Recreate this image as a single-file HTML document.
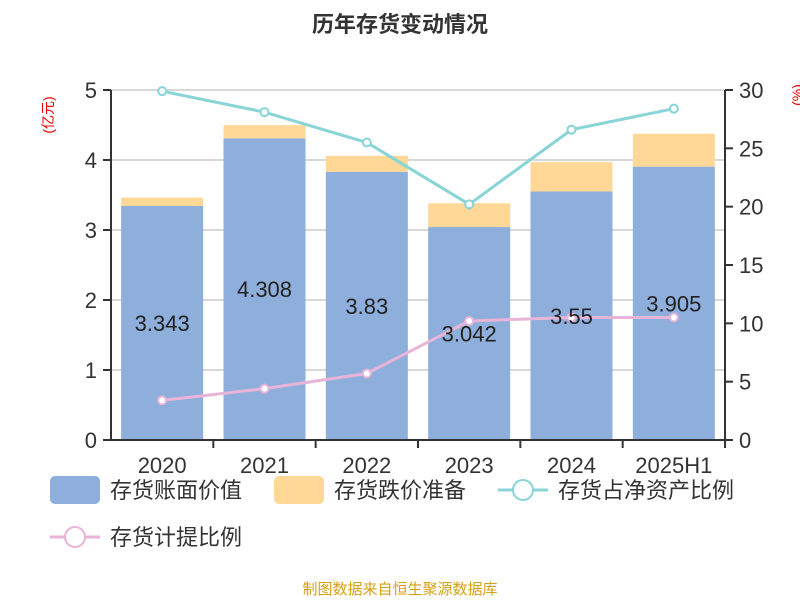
<!DOCTYPE html>
<html><head><meta charset="utf-8"><style>
body{margin:0;background:#fff;}
svg{font-family:"Liberation Sans","Noto Sans CJK SC",sans-serif;}
</style></head><body>
<svg id="c" width="800" height="600">
<text x="400" y="32" text-anchor="middle" font-size="22" font-weight="bold" fill="#333">历年存货变动情况</text>
<text x="0" y="0" transform="translate(53,115) rotate(-90)" text-anchor="middle" font-size="14" fill="#e00">(亿元)</text>
<text x="0" y="0" transform="translate(802,95) rotate(-90)" text-anchor="middle" font-size="14" fill="#e00">(%)</text>
<g id="grid"></g><g id="bars"></g><g id="axes"></g><g id="lines"></g><g id="labels"></g>
<g>
<rect x="50" y="476" width="50" height="28" rx="5" fill="#8eaedb"/>
<text x="110" y="498" font-size="22" fill="#333">存货账面价值</text>
<rect x="274" y="476" width="50" height="28" rx="5" fill="#ffd898"/>
<text x="334" y="498" font-size="22" fill="#333">存货跌价准备</text>
<line x1="498" y1="490" x2="548" y2="490" stroke="#88d4d6" stroke-width="3"/>
<circle cx="523" cy="490" r="10" fill="#fff" stroke="#88d4d6" stroke-width="2"/>
<text x="558" y="498" font-size="22" fill="#333">存货占净资产比例</text>
<line x1="50" y1="537" x2="100" y2="537" stroke="#e8b4d8" stroke-width="3"/>
<circle cx="75" cy="537" r="10" fill="#fff" stroke="#e8b4d8" stroke-width="2"/>
<text x="110" y="545" font-size="22" fill="#333">存货计提比例</text>
</g>
<text x="400" y="594" text-anchor="middle" font-size="15" fill="#d4a017">制图数据来自恒生聚源数据库</text>
</svg>
<script>
const categories=["2020","2021","2022","2023","2024","2025H1"];
const bookValue=[3.343,4.308,3.83,3.042,3.55,3.905];
const provision=[0.12,0.19,0.23,0.34,0.42,0.47];
const ratioNetAssets=[29.9,28.1,25.5,20.2,26.6,28.4];
const provisionRatio=[3.4,4.4,5.7,10.2,10.5,10.5];
const leftTicks=[0,1,2,3,4,5];
const rightTicks=[0,5,10,15,20,25,30];
const NS="http://www.w3.org/2000/svg";
const X0=111,X1=725,Y0=440,Y1=90;
const band=(X1-X0)/categories.length;
const xc=i=>X0+band*(i+0.5);
const yL=v=>Y0-(v/5)*(Y0-Y1);
const yR=v=>Y0-(v/30)*(Y0-Y1);
function mk(tag,attrs,parent,txt){const e=document.createElementNS(NS,tag);for(const k in attrs)e.setAttribute(k,attrs[k]);if(txt!==undefined)e.textContent=txt;document.getElementById(parent).appendChild(e);return e;}
leftTicks.forEach(t=>{
 if(t>0){const g=mk('line',{x1:X0,x2:X1,y1:yL(t),y2:yL(t),stroke:'#ccc','stroke-width':1.5},'grid');
 
 }
 mk('line',{x1:X0-8,x2:X0,y1:yL(t),y2:yL(t),stroke:'#333','stroke-width':2},'axes');
 const l=mk('text',{x:X0-14,y:yL(t)+8,'text-anchor':'end','font-size':22,fill:'#333'},'axes',String(t));
 
 
});
rightTicks.forEach(t=>{
 mk('line',{x1:X1,x2:X1+8,y1:yR(t),y2:yR(t),stroke:'#333','stroke-width':2},'axes');
 const l=mk('text',{x:X1+14,y:yR(t)+8,'font-size':22,fill:'#333'},'axes',String(t));
 
 
});
mk('line',{x1:X0,x2:X0,y1:Y1,y2:Y0,stroke:'#333','stroke-width':2},'axes');
mk('line',{x1:X1,x2:X1,y1:Y1,y2:Y0,stroke:'#333','stroke-width':2},'axes');
mk('line',{x1:X0,x2:X1,y1:Y0,y2:Y0,stroke:'#333','stroke-width':2},'axes');
categories.forEach((c,i)=>{
 const bw=82,x=xc(i)-bw/2;
 const b=mk('rect',{x:x,y:yL(bookValue[i]),width:bw,height:Y0-yL(bookValue[i]),fill:'#8eaedb'},'bars');
 
 
 const top=bookValue[i]+provision[i];
 const p=mk('rect',{x:x,y:yL(top),width:bw,height:yL(bookValue[i])-yL(top),fill:'#ffd898'},'bars');
 
 
 mk('line',{x1:xc(i)+band/2,x2:xc(i)+band/2,y1:Y0,y2:Y0+8,stroke:'#333','stroke-width':2},'axes');
 const t=mk('text',{x:xc(i),y:Y0+33,'text-anchor':'middle','font-size':22,fill:'#333'},'axes',c);
 
 
 const v=mk('text',{x:xc(i),y:yL(bookValue[i]/2)+8,'text-anchor':'middle','font-size':22,fill:'#222'},'labels',String(bookValue[i]));
 
 
});
function series(vals,color,name){
 const pl=mk('polyline',{points:vals.map((v,i)=>xc(i)+','+yR(v)).join(' '),fill:'none',stroke:color,'stroke-width':3},'lines');
 
 
 vals.forEach((v,i)=>{const c=mk('circle',{cx:xc(i),cy:yR(v),r:4,fill:'#fff',stroke:color,'stroke-width':2},'lines');
 
 });
}
series(ratioNetAssets,'#88d4d6','ratio-net-assets');
series(provisionRatio,'#e8b4d8','provision-ratio');
</script>
</body></html>
